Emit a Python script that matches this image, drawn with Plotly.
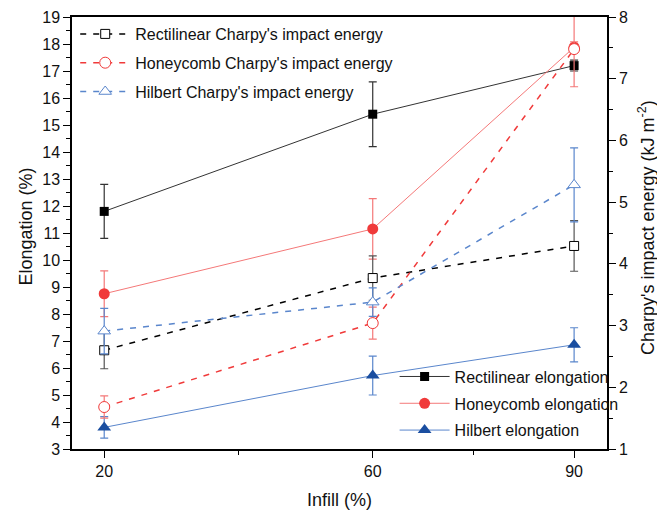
import plotly.graph_objects as go

infill = [20, 60, 90]

# Elongation (%) - left axis
rect_elong = [11.8, 15.4, 17.2]
rect_elong_err = [1.0, 1.2, 0.2]
honey_elong = [8.75, 11.15, 17.88]
honey_elong_err = [0.85, 1.12, 0.2]
hilb_elong = [3.8, 5.72, 6.86]
hilb_elong_err = [0.4, 0.72, 0.63]

# Charpy's impact energy (kJ m^-2) - right axis
rect_charpy = [2.6, 3.77, 4.29]
rect_charpy_err = [0.3, 0.36, 0.41]
honey_charpy = [1.68, 3.04, 7.48]
honey_charpy_err = [0.18, 0.26, 0.61]
hilb_charpy = [2.91, 3.38, 5.28]
hilb_charpy_err = [0.37, 0.23, 0.6]

FONT = "Arial, Liberation Sans, sans-serif"
BLACK = "#000000"
RED = "#F03A3A"
RED_LT = "#F47878"
BLUE = "#1A4EA0"
BLUE_LT = "#5A86CC"
TXT = "#111111"

fig = go.Figure()

def elong_trace(name, y, err, color, linecolor, errcolor, symbol, size, grp):
    return go.Scatter(
        x=infill, y=y, name=name, mode="lines+markers",
        line=dict(color=linecolor, width=1),
        marker=dict(symbol=symbol, size=size, color=color, line=dict(width=0)),
        error_y=dict(type="data", array=err, color=errcolor, thickness=1.2, width=4),
        legend="legend2", legendgroup=grp, yaxis="y",
    )

def charpy_trace(name, y, err, color, errcolor, symbol, size, grp):
    return go.Scatter(
        x=infill, y=y, name=name, mode="lines+markers",
        line=dict(color=color, width=1.5, dash="6px,7px"),
        marker=dict(symbol=symbol, size=size, color="white", line=dict(width=1, color=color)),
        error_y=dict(type="data", array=err, color=errcolor, thickness=1.2, width=4),
        legend="legend", legendgroup=grp, yaxis="y2",
    )

fig.add_trace(elong_trace("Rectilinear elongation", rect_elong, rect_elong_err, BLACK, "#333333", "#333333", "square", 9, "e1"))
fig.add_trace(elong_trace("Honeycomb elongation", honey_elong, honey_elong_err, RED, RED_LT, RED_LT, "circle", 11, "e2"))
fig.add_trace(elong_trace("Hilbert elongation", hilb_elong, hilb_elong_err, BLUE, BLUE_LT, BLUE_LT, "triangle-up", 12, "e3"))

fig.add_trace(charpy_trace("Rectilinear Charpy's impact energy", rect_charpy, rect_charpy_err, BLACK, "#555555", "square", 9, "c1"))
fig.add_trace(charpy_trace("Honeycomb Charpy's impact energy", honey_charpy, honey_charpy_err, RED, RED_LT, "circle", 11, "c2"))
fig.add_trace(charpy_trace("Hilbert Charpy's impact energy", hilb_charpy, hilb_charpy_err, BLUE_LT, BLUE_LT, "triangle-up", 11, "c3"))

axis_common = dict(
    showline=True, linecolor=BLACK, linewidth=1.5, showgrid=False, zeroline=False,
    ticks="outside", ticklen=7, tickwidth=1.3, tickcolor=BLACK, automargin=False,
    tickfont=dict(family=FONT, size=16, color=TXT),
)

def title_ann(text, x, y, xshift, yshift, angle):
    return dict(
        text=text, textangle=angle, xref="paper", yref="paper", x=x, y=y,
        xshift=xshift, yshift=yshift, xanchor="center", yanchor="middle",
        showarrow=False, font=dict(family=FONT, size=18, color=TXT),
    )

# page body adds an 8px offset, so the figure is 8px smaller than the window
fig.update_layout(
    width=657, height=504,
    margin=dict(l=63.5, r=58, t=9, b=63, autoexpand=False),
    paper_bgcolor="white", plot_bgcolor="white",
    font=dict(family=FONT, color=TXT),
    xaxis=dict(
        range=[15.2, 94.9], tickvals=infill, mirror=True,
        minor=dict(tickvals=[40, 75], ticklen=4, tickwidth=1.3, tickcolor=BLACK, ticks="outside"),
        **axis_common,
    ),
    yaxis=dict(
        range=[3, 19], dtick=1, tick0=3,
        minor=dict(dtick=0.5, tick0=3, ticklen=4, tickwidth=1.3, tickcolor=BLACK, ticks="outside"),
        **axis_common,
    ),
    yaxis2=dict(
        range=[1, 8], dtick=1, tick0=1, overlaying="y", side="right",
        minor=dict(dtick=0.5, tick0=1, ticklen=4, tickwidth=1.3, tickcolor=BLACK, ticks="outside"),
        **axis_common,
    ),
    annotations=[
        title_ann("Charpy's impact energy (kJ m<sup>-2</sup>)", 1.0, 0.5, 39, 5, -90),
        title_ann("Elongation (%)", 0.0, 0.5, -46.5, 6, -90),
        title_ann("Infill (%)", 0.5, 0.0, 0, -51, 0),
    ],
    legend=dict(
        x=0.006, y=1.0, xanchor="left", yanchor="top", bgcolor="rgba(0,0,0,0)",
        font=dict(family=FONT, size=16, color=TXT), tracegroupgap=5, itemwidth=50,
    ),
    legend2=dict(
        x=0.603, y=0.207, xanchor="left", yanchor="top", bgcolor="rgba(0,0,0,0)",
        font=dict(family=FONT, size=16, color=TXT), tracegroupgap=3, itemwidth=50,
    ),
    showlegend=True,
)

fig.write_html("out.html")
